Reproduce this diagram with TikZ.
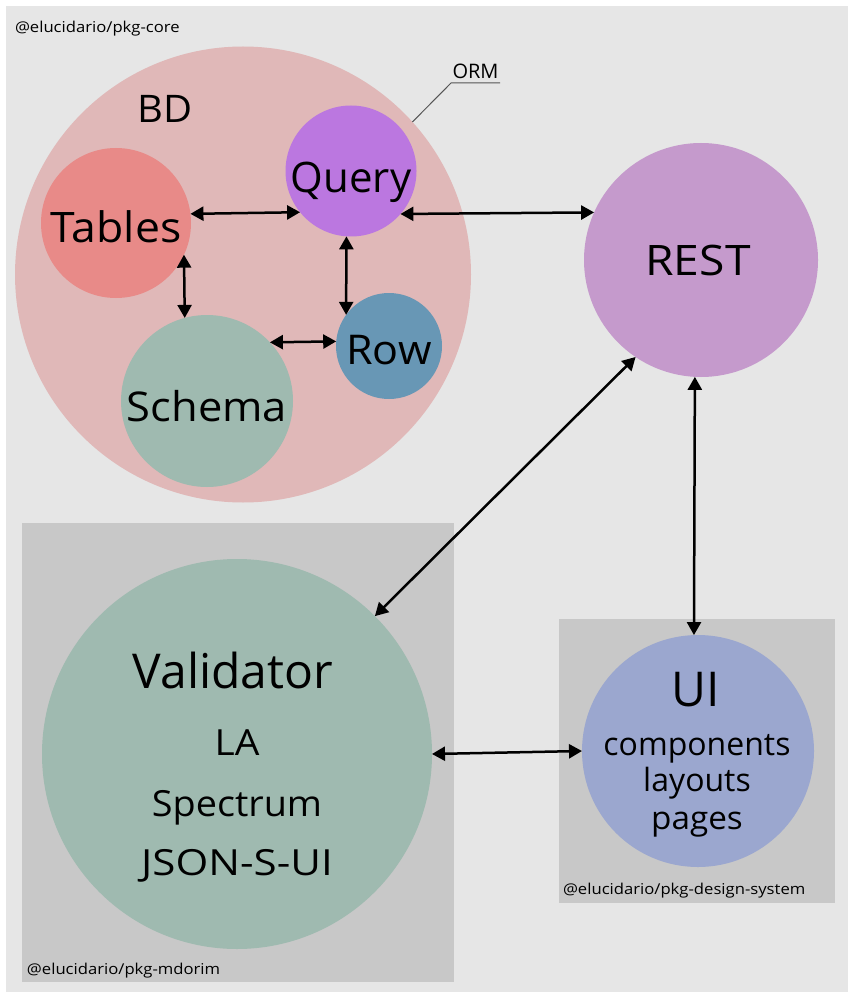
\documentclass[tikz,border=0pt]{standalone}
\usepackage{fontspec}
\setmainfont{Open Sans}
\usetikzlibrary{arrows.meta}
\definecolor{bgc}{HTML}{E6E6E6}
\definecolor{boxc}{HTML}{C8C8C8}
\definecolor{bdc}{HTML}{E0B8B8}
\definecolor{tabc}{HTML}{E88A88}
\definecolor{qryc}{HTML}{BB77E0}
\definecolor{schc}{HTML}{9FBAB0}
\definecolor{rowc}{HTML}{6897B5}
\definecolor{restc}{HTML}{C59ACC}
\definecolor{uic}{HTML}{9BA7CF}
\definecolor{leadc}{HTML}{555555}
\newcommand{\fsz}[2]{\fontsize{#1}{#1}\selectfont\addfontfeatures{FakeStretch=#2}}
\tikzset{
  blob/.style={circle, inner sep=0pt, outer sep=0pt, draw=none},
  txt/.style={anchor=base, inner sep=0pt, outer sep=0pt, text=black},
  small/.style={anchor=base west, inner sep=0pt, outer sep=0pt, text=black, font=\fsz{15}{1.11}},
  conn/.style={<->, >={Triangle[length=13pt,width=14pt]}, line width=2.5pt, black},
}
\begin{document}
\begin{tikzpicture}[x=1pt,y=-1pt]
\useasboundingbox (0,0) rectangle (848,992);
\fill[white] (0,0) rectangle (848,992);
\fill[bgc] (6,6) rectangle (848,992);
\fill[boxc] (22,523) rectangle (454,982);
\fill[boxc] (559,619) rectangle (835,903);

% circles
\node[blob, fill=bdc, minimum size=456pt] (bd) at (243,274.5) {};
\node[blob, fill=tabc, minimum size=150pt] (tables) at (116,223) {};
\node[blob, fill=qryc, minimum size=131pt] (query) at (351,171) {};
\node[blob, fill=schc, minimum size=172pt] (schema) at (207,401) {};
\node[blob, fill=rowc, minimum size=106pt] (row) at (389,346) {};
\node[blob, fill=restc, minimum size=234pt] (rest) at (701,260) {};
\node[blob, fill=schc, minimum size=390pt] (validator) at (237,754) {};
\node[blob, fill=uic, minimum size=232pt] (ui) at (698,751) {};

% texts
\node[small] (lcore) at (15,33) {@elucidario/pkg-core};
\node[small] (lmdorim) at (27,974) {@elucidario/pkg-mdorim};
\node[small] (lds) at (563,894) {@elucidario/pkg-design-system};

\node[txt, font=\fsz{38}{1.05}] (tbd) at (165,123) {BD};
\node[txt, font=\fsz{42}{1.06}] (ttables) at (116,243) {Tables};
\node[txt, font=\fsz{42}{1}] (tquery) at (351,193) {Query};
\node[txt, font=\fsz{41}{1.06}] (tschema) at (207,421) {Schema};
\node[txt, font=\fsz{41}{1.05}] (trow) at (389,364) {Row};
\node[txt, font=\fsz{42}{1.1}] (trest) at (698,275) {REST};
\node[txt, font=\fsz{48}{1}] (tval) at (233,688) {Validator};
\node[txt, font=\fsz{36}{1.08}] (tla) at (237,755) {LA};
\node[txt, font=\fsz{36}{1.05}] (tspec) at (237,816) {Spectrum};
\node[txt, font=\fsz{36}{1.17}] (tjson) at (237,875) {JSON-S-UI};
\node[txt, font=\fsz{48}{1}] (tui) at (696,706) {UI};
\node[txt, font=\fsz{32}{1}] (tcomp) at (697,755) {components};
\node[txt, font=\fsz{32}{1}] (tlay) at (697,791) {layouts};
\node[txt, font=\fsz{32}{1.04}] (tpages) at (697,829) {pages};

% ORM leader
\coordinate (ormk) at (451,83);
\coordinate (ormend) at (500,83);
\draw[leadc, line width=1pt] (bd.42) -- (ormk) -- (ormend);
\node[txt, font=\fsz{20}{1}] (torm) at (475.5,79) {ORM};

% connectors
\draw[conn] (tables.7.7) -- (query.219.9);
\draw[conn] (query.-41) -- (rest.156.9);
\draw[conn] (tables.-25) -- (schema.105.5);
\draw[conn] (query.-94.4) -- (row.144.2);
\draw[conn] (schema.43.3) -- (row.175.7);
\draw[conn] (rest.-124.2) -- (validator.45);
\draw[conn] (rest.-93.4) -- (ui.92);
\draw[conn] (validator.0.6) -- (ui.180.5);
\end{tikzpicture}
\end{document}
